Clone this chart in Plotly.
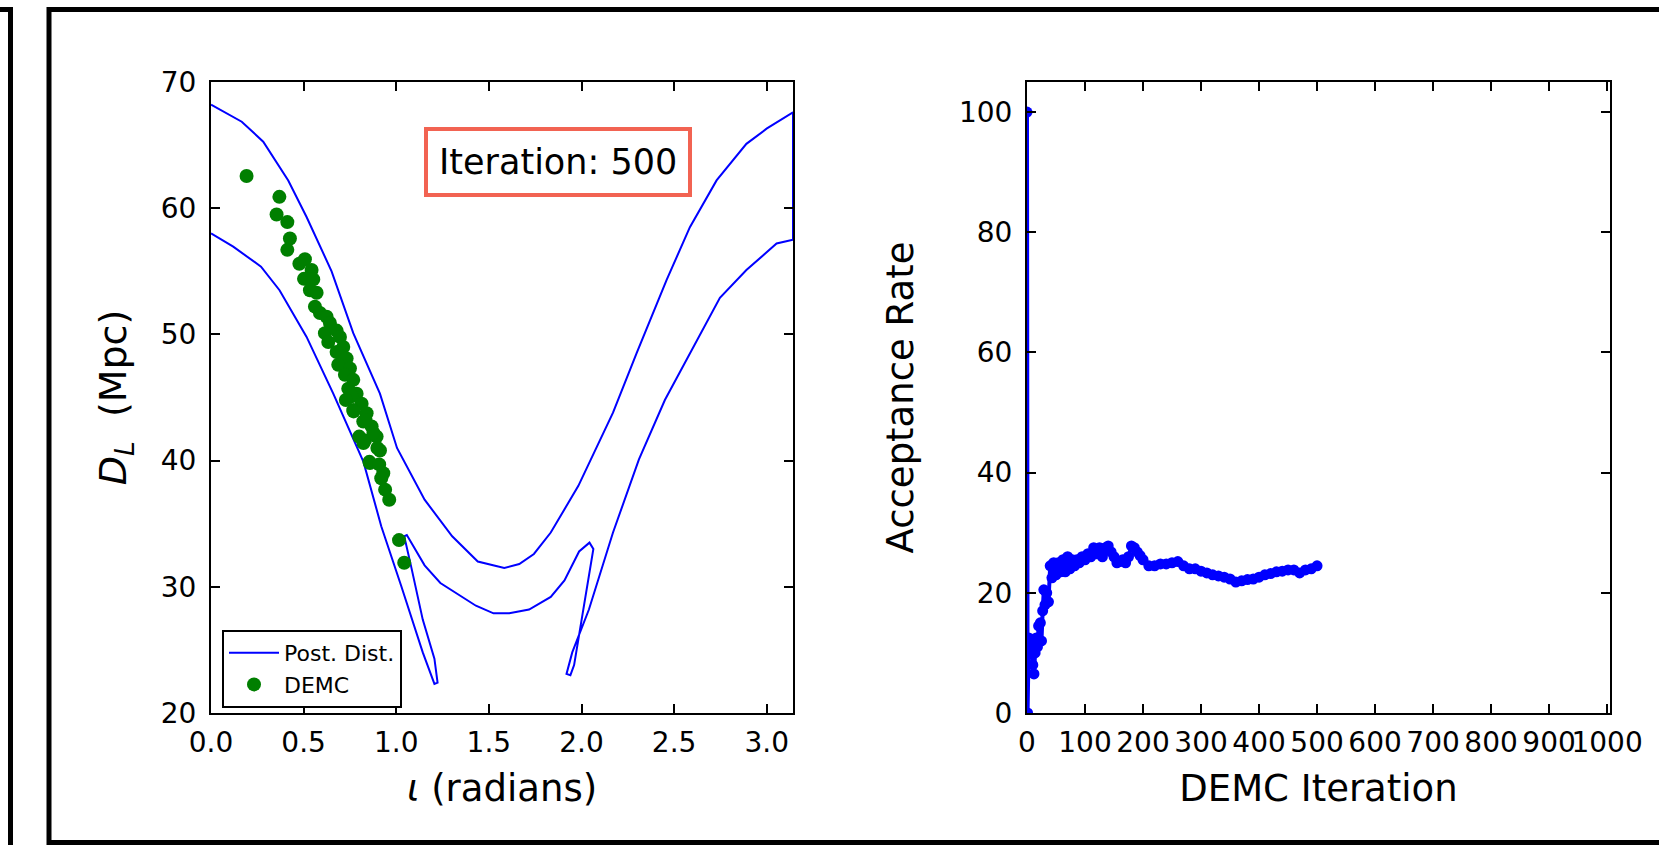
import plotly.graph_objects as go

# ---------------- data ----------------
# Posterior-distribution contour (iota [rad], D_L [Mpc])
post_x = [0.0, 0.166, 0.282, 0.417, 0.516, 0.651, 0.768, 0.912, 1.004, 1.10, 1.153, 1.302,
          1.44, 1.583, 1.664, 1.743, 1.834, 1.983, 2.068, 2.17, 2.297, 2.459, 2.585, 2.729,
          2.89, 2.999, 3.1416, 3.1416, 3.053, 2.89, 2.747, 2.576, 2.45, 2.31, 2.17, 2.04,
          1.95, 1.919, 1.94, 1.96, 2.0, 2.057, 2.064, 2.043, 1.987, 1.908, 1.834, 1.717,
          1.61, 1.525, 1.43, 1.238, 1.153, 1.057, 1.043, 1.079, 1.143, 1.206, 1.223, 1.206,
          1.143, 1.026, 0.919, 0.823, 0.66, 0.516, 0.37, 0.27, 0.12, 0.0]
post_y = [68.2, 66.85, 65.27, 62.2, 59.3, 55.0, 50.1, 45.3, 41.0, 38.4, 36.9, 34.0,
          32.0, 31.5, 31.8, 32.6, 34.3, 38.0, 40.6, 43.8, 48.5, 54.3, 58.5, 62.2,
          65.1, 66.3, 67.6, 57.5, 57.2, 55.1, 52.9, 48.2, 44.8, 40.1, 34.3, 28.2,
          24.8, 23.1, 23.0, 23.8, 27.4, 32.7, 33.0, 33.5, 32.8, 30.5, 29.2, 28.2,
          27.9, 27.9, 28.5, 30.3, 31.7, 34.1, 34.0, 31.7, 27.4, 24.3, 22.4, 22.3,
          24.8, 30.1, 34.8, 39.9, 45.3, 49.8, 53.5, 55.37, 56.95, 58.0]

# DEMC chain positions at iteration 500
demc_x = [0.192, 0.369, 0.354, 0.412, 0.426, 0.412, 0.507, 0.477, 0.543, 0.502, 0.552, 0.534,
          0.570, 0.561, 0.588, 0.624, 0.642, 0.615, 0.678, 0.696, 0.633, 0.714, 0.678, 0.732,
          0.687, 0.750, 0.723, 0.768, 0.741, 0.786, 0.759, 0.813, 0.768, 0.840, 0.822, 0.867,
          0.831, 0.894, 0.912, 0.858, 0.930, 0.728, 0.770, 0.834, 0.800, 0.877, 0.823, 0.898,
          0.855, 0.908, 0.919, 0.940, 0.962, 1.015, 1.043]
demc_y = [62.55, 60.9, 59.5, 58.9, 57.6, 56.7, 55.95, 55.6, 55.1, 54.4, 54.36, 53.5,
          53.3, 52.2, 51.7, 51.4, 50.9, 50.1, 50.3, 49.8, 49.4, 49.0, 48.6, 48.1,
          47.6, 47.3, 46.8, 46.4, 45.7, 45.3, 45.1, 44.5, 44.0, 43.75, 43.1, 42.7,
          41.6, 41.9, 40.8, 39.8, 39.0, 44.8, 43.9, 43.2, 41.9, 42.2, 41.4, 41.0,
          39.9, 39.7, 38.6, 37.7, 36.9, 33.7, 31.9]

# Acceptance rate vs DEMC iteration
acc_iter = [0, 1, 3, 5, 8, 10, 12, 14, 16, 18, 20, 23, 25, 27, 29, 31, 34, 37, 40, 43,
            46, 50, 54, 58, 62, 66, 70, 74, 78, 82, 86, 90, 95, 100, 105, 110, 115, 120,
            125, 130, 135, 140, 145, 150, 155, 160, 165, 170, 175, 180, 185, 190, 195, 200,
            210, 220, 230, 240, 250, 260, 270, 280, 290, 300, 310, 320, 330, 340, 350, 360,
            370, 380, 390, 400, 410, 420, 430, 440, 450, 460, 470, 480, 490, 500]
acc_rate = [100, 0, 12.5, 12, 11, 8, 6.5, 10, 12.5, 11, 14.5, 15, 12, 17, 20.5, 18, 20, 18.5, 24.5, 22.5,
            25, 23, 25, 23.5, 25.5, 23.5, 26, 24, 25.5, 24.5, 25.5, 25, 26, 25.5, 26.5, 26, 27.5, 26.5,
            27.5, 26, 27.5, 27.8, 26.8, 26, 25, 25.2, 25.5, 25, 26, 27.8, 27.5, 26.8, 26.2, 25.5,
            24.5, 24.5, 24.8, 24.8, 25, 25.2, 24.5, 24, 24, 23.6, 23.3, 23, 22.8, 22.6, 22.3, 21.8,
            22, 22.2, 22.3, 22.6, 23, 23.2, 23.5, 23.6, 23.8, 23.8, 23.3, 23.8, 24, 24.5]

iteration_label = "Iteration: 500"

# ---------------- layout geometry ----------------
W, H = 1659, 845
ML, MR, MT, MB = 211, 49, 82, 132
PW = W - ML - MR
PH = H - MT - MB


def pxx(x):
    return (x - ML) / PW


def pxy(y):
    return (H - MB - y) / PH


FONT = "DejaVu Sans"
BLUE = "#0000FF"
GREEN = "#007F00"

fig = go.Figure()
fig.add_trace(go.Scatter(x=post_x, y=post_y, mode="lines", name="Post. Dist.",
                         line=dict(color=BLUE, width=2), xaxis="x", yaxis="y"))
fig.add_trace(go.Scatter(x=demc_x, y=demc_y, mode="markers", name="DEMC",
                         marker=dict(color=GREEN, size=14, line=dict(width=0)),
                         xaxis="x", yaxis="y"))
fig.add_trace(go.Scatter(x=acc_iter, y=acc_rate, mode="lines+markers", showlegend=False,
                         line=dict(color=BLUE, width=4),
                         marker=dict(color=BLUE, size=11, line=dict(width=0)),
                         xaxis="x2", yaxis="y2"))

ax_common = dict(showline=True, linecolor="black", linewidth=2, mirror="ticks",
                 ticks="inside", ticklen=9, tickwidth=1.5, tickcolor="black",
                 showgrid=False, zeroline=False, automargin=False,
                 tickfont=dict(family=FONT, size=28, color="black"), tickangle=0)

fig.update_layout(
    width=W, height=H,
    margin=dict(l=ML, r=MR, t=MT, b=MB),
    paper_bgcolor="white", plot_bgcolor="white",
    font=dict(family=FONT, color="black"),
    xaxis=dict(domain=[0, pxx(793)], range=[0, 3.1416], dtick=0.5, tick0=0,
               tickformat=".1f", anchor="y", ticklabelstandoff=3,
               title=dict(text="<i>ι</i> (radians)", font=dict(size=37), standoff=18),
               **ax_common),
    yaxis=dict(domain=[0, 1], range=[20, 70], dtick=10, anchor="x", ticklabelstandoff=7,
               title=dict(text="<i>D</i><sub><i>L</i></sub>  (Mpc)", font=dict(size=38), standoff=22),
               **ax_common),
    xaxis2=dict(domain=[pxx(1027), 1], range=[0, 1005], dtick=100, tick0=0, anchor="y2",
                ticklabelstandoff=3,
                title=dict(text="DEMC Iteration", font=dict(size=37), standoff=18),
                **ax_common),
    yaxis2=dict(domain=[0, 1], range=[0, 105], dtick=20, anchor="x2", ticklabelstandoff=7,
                title=dict(text="Acceptance Rate", font=dict(size=37), standoff=34),
                **ax_common),
    legend=dict(x=pxx(222), y=pxy(630), xanchor="left", yanchor="top",
                bgcolor="white", bordercolor="black", borderwidth=2,
                font=dict(family=FONT, size=22, color="black"),
                tracegroupgap=0, itemwidth=50),
    showlegend=True,
)

fig.add_annotation(x=pxx(558), y=pxy(161.5), xref="paper", yref="paper",
                   text=iteration_label, showarrow=False,
                   font=dict(family=FONT, size=35, color="black"),
                   bordercolor="#F26352", borderwidth=4, borderpad=11,
                   bgcolor="white", xanchor="center", yanchor="middle")

# outer frames (video panel borders)
frame = dict(color="black", width=5)
fig.add_shape(type="rect", xref="paper", yref="paper",
              x0=pxx(49), x1=pxx(1680), y0=pxy(842.5), y1=pxy(9.5), line=frame, layer="above")
fig.add_shape(type="line", xref="paper", yref="paper",
              x0=pxx(10.5), x1=pxx(10.5), y0=pxy(850), y1=pxy(9.5), line=frame, layer="above")
fig.add_shape(type="line", xref="paper", yref="paper",
              x0=pxx(-5), x1=pxx(13), y0=pxy(9.5), y1=pxy(9.5), line=frame, layer="above")

fig.write_html("out.html", config={"displayModeBar": False},
               post_script="document.body.style.margin='0';document.body.style.overflow='hidden';")
